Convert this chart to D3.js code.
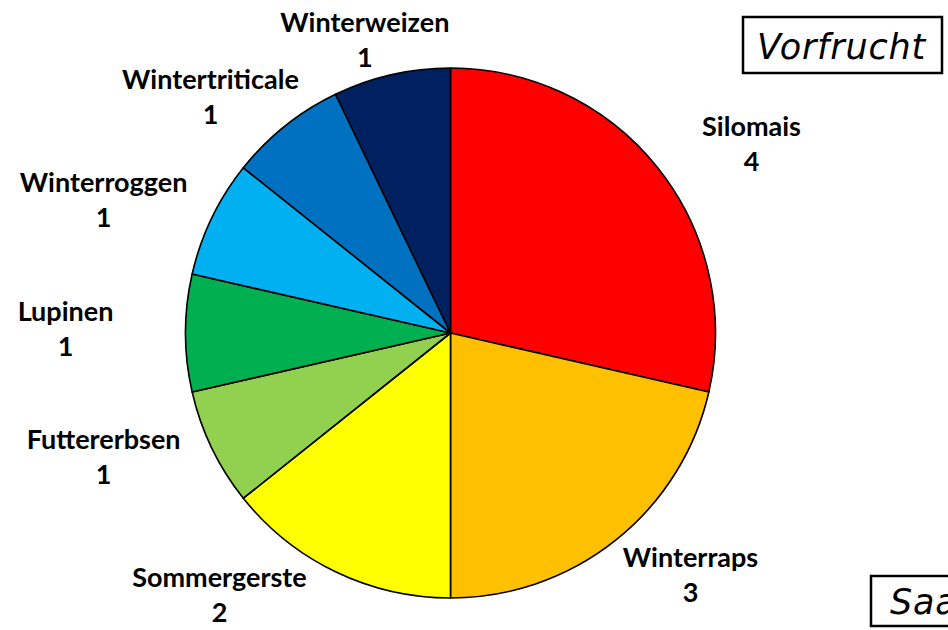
<!DOCTYPE html>
<html>
<head>
<meta charset="utf-8">
<script src="https://cdn.jsdelivr.net/npm/d3@7"></script>
<style>
  html, body { margin: 0; padding: 0; background: #fff; }
  svg { display: block; }
</style>
</head>
<body>
<svg id="chart" width="948" height="630"></svg>
<script>
// Vorfrucht (previous crop) counts
const crops  = ["Silomais", "Winterraps", "Sommergerste", "Futtererbsen", "Lupinen", "Winterroggen", "Wintertriticale", "Winterweizen"];
const counts = [4, 3, 2, 1, 1, 1, 1, 1];
const colors = ["#FF0000", "#FFC000", "#FFFF00", "#92D050", "#00B050", "#00B0F0", "#0070C0", "#002060"];
const boxTitles = ["Vorfrucht", "Saatdatum"];

const svg = d3.select("#chart");
const W = 948, H = 630;
const cx = 450.5, cy = 333, R = 265;

const rows = crops.map((c, i) => ({ name: c, value: counts[i], color: colors[i] }));

const pie = d3.pie().value(d => d.value).sort(null);
const arc = d3.arc().innerRadius(0).outerRadius(R);
const arcs = pie(rows);

const g = svg.append("g").attr("transform", `translate(${cx},${cy})`);

g.selectAll("path.slice")
  .data(arcs)
  .join("path")
  .attr("class", "slice")
  .attr("d", arc)
  .attr("fill", d => d.data.color)
  .attr("stroke", "#000")
  .attr("stroke-width", 1.6)
  .attr("stroke-linejoin", "round");

// Labels sit on an ellipse around the pie, at each slice's mid angle.
// A label that touches the rim is slid sideways or outwards (whichever
// is shorter and still inside the drawing) until it clears the pie.
const labelRx = 385, labelRy = 296, labelLift = 4, rimPad = 6;
const labelFont = "Lato, 'Open Sans', sans-serif";
const labelSize = 27;
const lineGap = 35;

const labels = g.selectAll("g.lbl")
  .data(arcs)
  .join("g")
  .attr("class", "lbl");

labels.append("text")
  .attr("text-anchor", "middle")
  .attr("y", -lineGap / 2 + 9)
  .attr("font-family", labelFont)
  .attr("font-weight", 700)
  .attr("font-size", labelSize)
  .attr("fill", "#000")
  .text(d => d.data.name);

labels.append("text")
  .attr("text-anchor", "middle")
  .attr("y", lineGap / 2 + 9)
  .attr("font-family", labelFont)
  .attr("font-weight", 700)
  .attr("font-size", labelSize)
  .attr("fill", "#000")
  .text(d => d.data.value);

labels.each(function (d) {
  const a = (d.startAngle + d.endAngle) / 2;
  const x0 = labelRx * Math.sin(a);
  const y0 = -labelRy * Math.cos(a) - labelLift;
  const boxes = [];
  d3.select(this).selectAll("text").each(function () {
    const b = this.getBBox();
    boxes.push({ x: b.x, y: b.y + 3, w: b.width, h: b.height - 8 });
  });
  const all = this.getBBox();
  const hits = (x, y) => boxes.some(b => {
    const xs = [x + b.x, x + b.x + b.w];
    const ys = [y + b.y, y + b.y + b.h];
    return xs.some(px => ys.some(py => Math.hypot(px, py) < R + rimPad));
  });
  const inside = (x, y) =>
    cx + x + all.x >= 0 && cx + x + all.x + all.width <= W &&
    cy + y + all.y >= 0 && cy + y + all.y + all.height <= H + 4;
  const hx = Math.sin(a) >= 0 ? 1 : -1;
  const vy = Math.cos(a) >= 0 ? -1 : 1;
  let best = [x0, y0];
  if (hits(x0, y0)) {
    let sh = null, sv = null;
    for (let k = 1; k < 300; k++) {
      if (sh === null && !hits(x0 + hx * k, y0)) sh = k;
      if (sv === null && !hits(x0, y0 + vy * k)) sv = k;
    }
    const okH = sh !== null && inside(x0 + hx * sh, y0);
    const okV = sv !== null && inside(x0, y0 + vy * sv);
    if (okV && (!okH || sv <= sh)) best = [x0, y0 + vy * sv];
    else if (okH) best = [x0 + hx * sh, y0];
  }
  d3.select(this).attr("transform", `translate(${best[0]},${best[1]})`);
});

// Framed captions at the top right and bottom right corners
function caption(x, y, w, h, pad, text) {
  svg.append("rect")
    .attr("x", x).attr("y", y)
    .attr("width", w).attr("height", h)
    .attr("fill", "#fff")
    .attr("stroke", "#000")
    .attr("stroke-width", 2.5);
  svg.append("text")
    .attr("x", x + pad)
    .attr("y", y + h * 0.75)
    .attr("font-family", "'DejaVu Sans', Verdana, sans-serif")
    .attr("font-style", "italic")
    .attr("font-size", 35)
    .attr("letter-spacing", 0.8)
    .attr("fill", "#000")
    .text(text);
}
caption(743, 17, 199, 56, 14, boxTitles[0]);
caption(871, 576, 220, 50, 19, boxTitles[1]);
</script>
</body>
</html>
